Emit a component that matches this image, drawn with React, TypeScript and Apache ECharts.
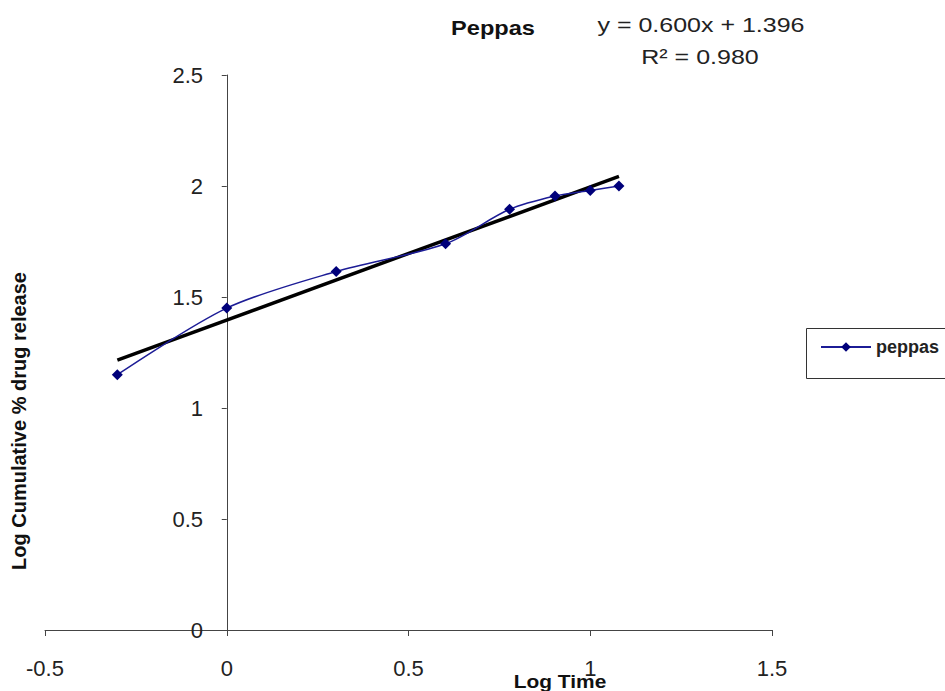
import React, { useEffect, useRef } from "react";
import * as echarts from "echarts";

const logTime = [-0.301, 0, 0.301, 0.602, 0.778, 0.903, 1.0, 1.079];
const logRelease = [1.15, 1.45, 1.615, 1.74, 1.895, 1.955, 1.98, 2.0];
const trendSlope = 0.6;
const trendIntercept = 1.396;
const xTicks = [-0.5, 0, 0.5, 1, 1.5];
const yTicks = [0, 0.5, 1, 1.5, 2, 2.5];

const FONT = '"Liberation Sans", Arial, sans-serif';

export default function App() {
  const ref = useRef<HTMLDivElement>(null);
  useEffect(() => {
    if (!ref.current) return;
    const chart = echarts.init(ref.current, null, { renderer: "svg" });
    const xMin = Math.min(...logTime);
    const xMax = Math.max(...logTime);
    const trend = [
      [xMin, trendSlope * xMin + trendIntercept],
      [xMax, trendSlope * xMax + trendIntercept],
    ];
    chart.setOption({
      animation: false,
      backgroundColor: "#ffffff",
      grid: { left: 45, right: 173, top: 75, bottom: 61, containLabel: false },
      xAxis: {
        type: "value",
        min: xTicks[0],
        max: xTicks[xTicks.length - 1],
        interval: 0.5,
        axisLine: { show: true, onZero: true, lineStyle: { color: "#444", width: 1 } },
        axisTick: { show: true, length: 6, lineStyle: { color: "#444" } },
        splitLine: { show: false },
        axisLabel: {
          margin: 27,
          fontSize: 22,
          color: "#222",
          fontFamily: FONT,
          formatter: (v: number) => String(v),
        },
      },
      yAxis: {
        type: "value",
        min: yTicks[0],
        max: yTicks[yTicks.length - 1],
        interval: 0.5,
        axisLine: { show: true, onZero: true, lineStyle: { color: "#444", width: 1 } },
        axisTick: { show: true, length: 5, lineStyle: { color: "#444" } },
        splitLine: { show: false },
        axisLabel: {
          margin: -158,
          fontSize: 22,
          color: "#222",
          fontFamily: FONT,
          formatter: (v: number) => String(v),
        },
      },
      legend: {
        data: ["peppas"],
        left: 815,
        top: 333,
        itemWidth: 50,
        itemHeight: 12,
        itemGap: 4,
        textStyle: { fontSize: 18, fontWeight: "bold", color: "#222", fontFamily: FONT },
      },
      graphic: [
        {
          type: "rect",
          shape: { x: 806.5, y: 328.5, width: 160, height: 50 },
          style: { fill: "none", stroke: "#333", lineWidth: 1 },
          z: 0,
        },
        {
          type: "text",
          x: 493,
          y: 28,
          scaleX: 1.18,
          style: {
            text: "Peppas",
            fontSize: 20,
            fontWeight: "bold",
            fill: "#111",
            fontFamily: FONT,
            textAlign: "center",
            textVerticalAlign: "middle",
          },
        },
        {
          type: "text",
          x: 701,
          y: 25,
          scaleX: 1.25,
          style: {
            text: "y = 0.600x + 1.396",
            fontSize: 20,
            fill: "#222",
            fontFamily: FONT,
            textAlign: "center",
            textVerticalAlign: "middle",
          },
        },
        {
          type: "text",
          x: 700,
          y: 57,
          scaleX: 1.25,
          style: {
            text: "R² = 0.980",
            fontSize: 20,
            fill: "#222",
            fontFamily: FONT,
            textAlign: "center",
            textVerticalAlign: "middle",
          },
        },
        {
          type: "text",
          x: 560,
          y: 681,
          scaleX: 1.1,
          style: {
            text: "Log Time",
            fontSize: 19,
            fontWeight: "bold",
            fill: "#111",
            fontFamily: FONT,
            textAlign: "center",
            textVerticalAlign: "middle",
          },
        },
        {
          type: "text",
          x: 19,
          y: 421,
          rotation: Math.PI / 2,
          style: {
            text: "Log Cumulative % drug release",
            fontSize: 20,
            fontWeight: "bold",
            fill: "#111",
            fontFamily: FONT,
            textAlign: "center",
            textVerticalAlign: "middle",
          },
        },
      ],
      series: [
        {
          name: "peppas",
          type: "line",
          data: logTime.map((x, i) => [x, logRelease[i]]),
          smooth: 0.3,
          symbol: "diamond",
          symbolSize: 11,
          lineStyle: { color: "#1c1c96", width: 1.5 },
          itemStyle: { color: "#00007a" },
          z: 3,
        },
        {
          name: "trend",
          type: "line",
          data: trend,
          symbol: "none",
          lineStyle: { color: "#000", width: 3.5 },
          z: 2,
        },
      ],
    });
    return () => chart.dispose();
  }, []);
  return (
    <div
      ref={ref}
      style={{ position: "absolute", left: 0, top: 0, width: 945, height: 691 }}
    />
  );
}
